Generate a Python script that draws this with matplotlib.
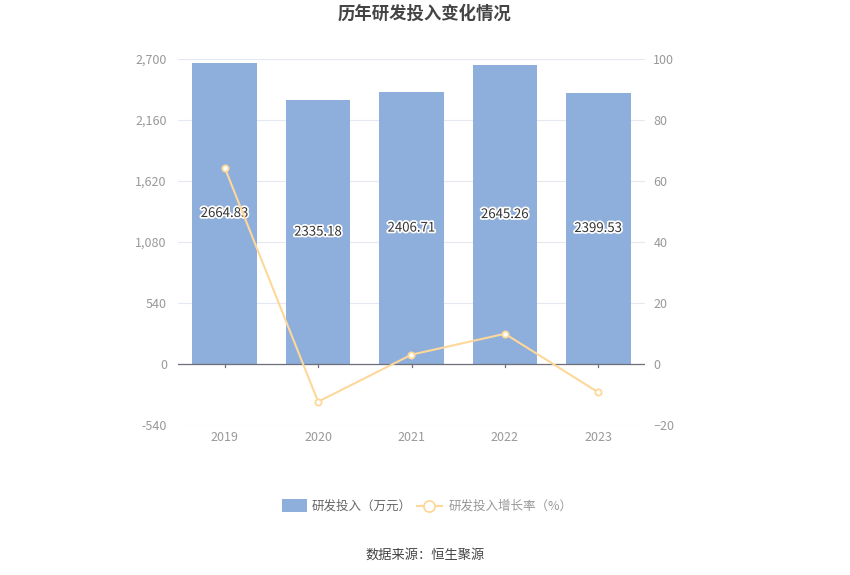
import matplotlib
matplotlib.use("Agg")
from matplotlib import pyplot as plt
import matplotlib.patheffects as pe
import numpy as np

plt.rcParams['font.family'] = ['Noto Sans CJK SC', 'DejaVu Sans']

# 数据
years = ['2019', '2020', '2021', '2022', '2023']
invest = [2664.83, 2335.18, 2406.71, 2645.26, 2399.53]
growth = [64.4, -12.37, 3.06, 9.91, -9.29]
left_ticks = [-540, 0, 540, 1080, 1620, 2160, 2700]
right_ticks = [-20, 0, 20, 40, 60, 80, 100]

bar_c = '#8eaedb'
line_c = '#fdd89a'
grid_c = '#e3e8f2'
txt_c = '#999999'

fig = plt.figure(figsize=(8.5, 5.75), dpi=100)
ax = fig.add_axes([178/850, 1-425/575, (645-178)/850, (425-59)/575])
ax2 = ax.twinx()

x = np.arange(len(years))
ax.bar(x, invest, width=0.69, color=bar_c, zorder=2)
for xi, v in zip(x, invest):
    ax.text(xi, v/2, f'{v:.2f}', ha='center', va='center', fontsize=9.5,
            color='#333333', zorder=5,
            path_effects=[pe.withStroke(linewidth=2.5, foreground='white')])

ax.set_ylim(-540, 2700)
ax.set_yticks(left_ticks)
ax.set_yticklabels([f'{t:,}' for t in left_ticks])
ax.set_xlim(-0.5, len(years)-0.5)
ax.set_xticks(x)
ax.set_xticklabels(years)
ax.grid(axis='y', color=grid_c, lw=0.8, zorder=0)
ax.axhline(0, color='#6e7079', lw=0.9, zorder=3)
for s in ax.spines.values():
    s.set_visible(False)
for s in ax2.spines.values():
    s.set_visible(False)
ax.tick_params(axis='y', length=0, colors=txt_c, labelsize=9, pad=8)
ax.tick_params(axis='x', length=0, colors=txt_c, labelsize=9, pad=4)
for xi in x:
    ax.plot([xi, xi], [0, -25], color='#6e7079', lw=0.9, zorder=3, clip_on=False)

ax2.plot(x, growth, color=line_c, lw=1.5, marker='o', ms=4.5,
         markerfacecolor='white', markeredgecolor=line_c, markeredgewidth=1.3, zorder=4)
ax2.set_ylim(-20, 100)
ax2.set_yticks(right_ticks)
ax2.tick_params(axis='y', length=0, colors=txt_c, labelsize=9, pad=6)

fig.text(0.5, 1-14/575, '历年研发投入变化情况', ha='center', va='center',
         fontsize=12.5, fontweight='bold', color='#444444')

# 图例
lx = 282/850
ly = 1-506/575
fig.patches.append(plt.Rectangle((lx, ly-6/575), 25/850, 13/575, transform=fig.transFigure,
                                 facecolor=bar_c, edgecolor='none'))
fig.text(lx+30/850, ly, '研发投入（万元）', ha='left', va='center', fontsize=9, color='#666666')
lx2 = 417/850
fig.lines.append(plt.Line2D([lx2, lx2+25/850], [ly, ly], transform=fig.transFigure,
                            color=line_c, lw=1.5))
fig.lines.append(plt.Line2D([lx2+12.5/850], [ly], transform=fig.transFigure, marker='o', ms=8,
                            markerfacecolor='white', markeredgecolor=line_c, markeredgewidth=1.3))
fig.text(lx2+32/850, ly, '研发投入增长率（%）', ha='left', va='center', fontsize=9, color='#999999')

fig.text(0.5, 1-555/575, '数据来源：恒生聚源', ha='center', va='center', fontsize=9.5, color='#444444')

fig.savefig('out.png', dpi=100)
